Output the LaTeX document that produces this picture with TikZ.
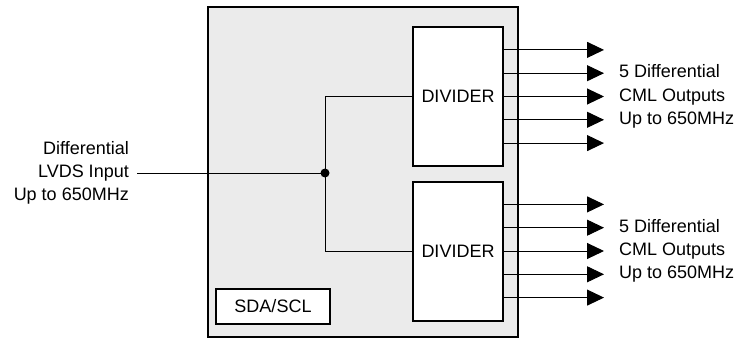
\documentclass[tikz,border=0pt]{standalone}
\usepackage{fontspec}
\setmainfont{Liberation Sans}
\usetikzlibrary{arrows.meta}
\definecolor{chipgray}{RGB}{235,235,235}

\begin{document}
\begin{tikzpicture}[x=1pt,y=-1pt,
  thickbox/.style={draw=black,line width=2pt,inner sep=0pt},
  divbox/.style={thickbox,fill=white,minimum width=90pt,minimum height=139pt},
  wire/.style={draw=black,line width=1pt},
  outwire/.style={wire,-{Triangle[length=17pt,width=16pt]}},
  lbl/.style={font=\fontsize{18}{23.3}\selectfont,inner sep=0pt}]
\useasboundingbox (0,0) rectangle (735,339);
% chip outline:
\node[thickbox,fill=chipgray,minimum width=310pt,minimum height=330pt] (chip) at (363,172) {};
% blocks inside the chip:
\node[divbox,font=\fontsize{18}{22}\selectfont] (divA) at (458,96.5) {DIVIDER};
\node[divbox,font=\fontsize{18}{22}\selectfont] (divB) at (458,251) {DIVIDER};
\node[thickbox,fill=white,minimum width=114pt,minimum height=35pt,font=\fontsize{18}{22}\selectfont] (sda) at (273,306.5) {SDA/SCL};
% input side:
\node[lbl,align=right,anchor=east] (inlbl) at (129,173) {Differential\\LVDS Input\\Up to 650MHz};
\coordinate (jn) at (325,173);
\draw[wire] ([xshift=8pt]inlbl.east) -- (jn);
\draw[wire] (jn) |- (divA.west);
\draw[wire] (jn) |- (divB.west);
\fill (jn) circle (4.5pt);
% outputs:
\foreach \blk in {divA,divB} {
  \foreach \i [evaluate=\i as \dy using (3-\i)*23.3] in {1,...,5} {
    \coordinate (\blk out\i) at ([xshift=100pt,yshift=\dy pt]\blk.east);
    \draw[outwire] ([yshift=\dy pt]\blk.east) -- (\blk out\i);
  }
  \node[lbl,align=left,anchor=west] (\blk lbl) at ([xshift=15pt]\blk out3) {5 Differential\\CML Outputs\\Up to 650MHz};
}
\end{tikzpicture}
\end{document}
